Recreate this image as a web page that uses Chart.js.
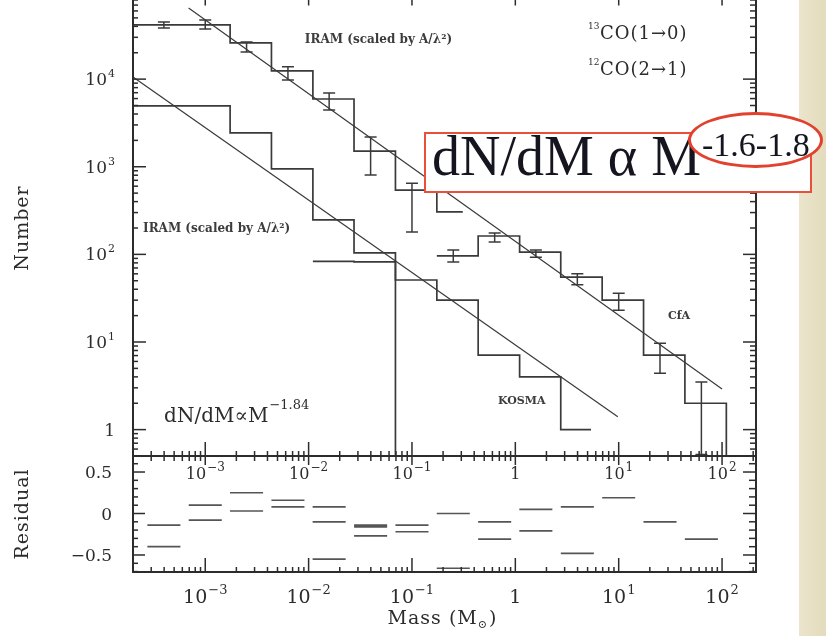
<!DOCTYPE html>
<html lang="en">
<head>
    <meta charset="UTF-8">
    <meta name="viewport" content="width=device-width, initial-scale=1.0">
    <title>Clump mass spectrum</title>
    <style>
        body {
            margin: 0;
            width: 826px;
            height: 636px;
            position: relative;
            overflow: hidden;
            background-color: #ffffff;
        }

        .panel {
            position: absolute;
            left: 0;
            width: 826px;
        }

        .panel canvas {
            display: block;
            filter: blur(0.5px);
        }

        #mainPanel { top: -20px; height: 500px; }
        #residualPanel { top: 440px; height: 196px; }

        #stripe {
            position: absolute;
            left: 799px;
            top: 0;
            width: 27px;
            height: 636px;
            background: linear-gradient(90deg, #ebe5cc, #e3dbbd);
        }

        #callout {
            position: absolute;
            left: 424px;
            top: 132px;
            width: 384px;
            height: 57px;
            border: 2px solid #e8503a;
            background: #ffffff;
        }

        #callout span {
            position: absolute;
            left: 6px;
            top: -6px;
            font: 56px/1 "Liberation Serif", serif;
            color: #15151f;
            white-space: nowrap;
        }

        #ring {
            position: absolute;
            left: 688px;
            top: 112px;
            width: 129px;
            height: 50px;
            border: 3px solid #e2412e;
            border-radius: 50%;
            background: #ffffff;
        }

        #slope {
            position: absolute;
            left: 702px;
            top: 128px;
            font: 34px/1 "Liberation Serif", serif;
            color: #15151f;
            white-space: nowrap;
        }
    </style>
    <script src="https://cdn.jsdelivr.net/npm/chart.js"></script>
</head>
<body>
    <div id="stripe"></div>
    <div class="panel" id="mainPanel"><canvas id="massChart"></canvas></div>
    <div class="panel" id="residualPanel"><canvas id="residualChart"></canvas></div>
    <div id="callout"><span>dN/dM α M</span></div>
    <div id="ring"></div>
    <div id="slope">-1.6-1.8</div>

    <script>
        // Histograms: bin edges in solar masses, clump counts per bin
        const iramHighEdges = [2.0e-4, 1.74e-3, 4.37e-3, 1.10e-2, 2.75e-2, 6.92e-2, 0.174, 0.31];
        const iramHighCounts = [41500, 25900, 12400, 5930, 1510, 540, 305];

        const iramLowEdges = [2.0e-4, 1.74e-3, 4.37e-3, 1.10e-2, 2.75e-2, 6.92e-2];
        const iramLowCounts = [4940, 2430, 944, 247, 104];

        const kosmaEdges = [1.10e-2, 2.75e-2, 6.92e-2, 0.174, 0.437, 1.10, 2.75, 5.4];
        const kosmaCounts = [83, 82, 51, 30, 7.1, 4, 1];

        const cfaEdges = [0.174, 0.437, 1.10, 2.75, 6.92, 17.4, 43.7, 110];
        const cfaCounts = [96, 162, 106, 55, 30, 7.1, 2];

        // Poisson error bars (bin centre, lower, upper)
        const iramErrMass = [3.98e-4, 1.0e-3, 2.51e-3, 6.31e-3, 1.58e-2, 3.98e-2, 0.100];
        const iramErrLow = [38300, 37300, 20400, 9770, 4440, 805, 180];
        const iramErrHigh = [44900, 47300, 26500, 13800, 6950, 2190, 650];

        const cfaErrMass = [0.251, 0.631, 1.58, 3.98, 10.0, 25.1, 63.1];
        const cfaErrLow = [82, 138, 93, 45, 23, 4.4, 0.52];
        const cfaErrHigh = [112, 175, 112, 60, 36, 9.7, 3.5];

        // Power-law fits, dN/dM ~ M^-1.84
        const fitHighMass = [6.9e-4, 100];
        const fitHighCount = [65000, 2.9];
        const fitLowMass = [2.0e-4, 9.8];
        const fitLowCount = [10600, 1.4];

        // Residuals of the fits per bin centre
        const resMass = [3.98e-4, 1.0e-3, 2.51e-3, 6.31e-3, 1.58e-2, 3.98e-2, 0.100, 0.251, 0.631, 1.58, 3.98, 10.0, 25.1, 63.1];
        const resUpper = [-0.14, 0.10, 0.25, 0.16, 0.08, -0.14, -0.14, 0.00, -0.10, 0.05, 0.08, 0.19, -0.10, -0.31];
        const resLower = [-0.40, -0.08, 0.03, 0.08, -0.10, -0.16, -0.22, -0.66, -0.31, -0.21, -0.48, null, null, null];
        const resThird = [null, null, null, null, -0.55, -0.27, null, null, null, null, null, null, null, null];

        // Axis ranges
        const massMin = 2.0e-4, massMax = 213;
        const countMin = 0.5, countMax = 1e5;
        const resMin = -0.705, resMax = 0.693;
        const yDecades = [1, 10, 100, 1000, 10000];
        const xDecades = [1e-3, 1e-2, 1e-1, 1, 10, 100];
        const resLabels = [0.5, 0, -0.5];

        const FONT = '"DejaVu Serif", serif';
        const INK = '#2c2c2c';
        const LINE = '#3a3a3a';
        const FLOOR = 0.1;        // empty bin, below the log axis
        const SEG_SPAN = 1.445;   // residual marks cover +-0.16 dex

        function stepPoints(edges, counts, drop) {
            const pts = counts.map((c, i) => ({ x: edges[i], y: c }));
            pts.push({ x: edges[counts.length], y: counts[counts.length - 1] });
            if (drop) pts.push({ x: edges[counts.length], y: FLOOR });
            return pts;
        }

        function linePoints(xs, ys) {
            return xs.map((x, i) => ({ x: x, y: ys[i] }));
        }

        function residualPoints(values) {
            const pts = [];
            values.forEach((v, i) => {
                if (v === null) return;
                pts.push({ x: resMass[i] / SEG_SPAN, y: v });
                pts.push({ x: resMass[i] * SEG_SPAN, y: v });
                pts.push({ x: resMass[i] * SEG_SPAN, y: null });
            });
            return pts;
        }

        function logTicks(min, max) {
            const out = [];
            for (let e = Math.floor(Math.log10(min)); e <= Math.ceil(Math.log10(max)); e++) {
                for (let m = 1; m < 10; m++) {
                    const v = m * Math.pow(10, e);
                    if (v >= min * 0.999 && v <= max * 1.001) out.push({ v: v, major: m === 1 });
                }
            }
            return out;
        }

        function decadeParts(v) {
            const e = Math.round(Math.log10(v));
            if (e === 0) return ['1', ''];
            return ['10', (e < 0 ? '\u2212' : '') + Math.abs(e)];
        }

        function powerText(ctx, base, sup, x, y, size, supSize, rise, align) {
            ctx.font = size + 'px ' + FONT;
            const bw = ctx.measureText(base).width;
            ctx.font = supSize + 'px ' + FONT;
            const sw = sup ? ctx.measureText(sup).width + 1 : 0;
            let x0 = x;
            if (align === 'right') x0 = x - bw - sw;
            if (align === 'center') x0 = x - (bw + sw) / 2;
            ctx.textAlign = 'left';
            ctx.textBaseline = 'alphabetic';
            ctx.font = size + 'px ' + FONT;
            ctx.fillText(base, x0, y);
            if (sup) {
                ctx.font = supSize + 'px ' + FONT;
                ctx.fillText(sup, x0 + bw + 1, y - rise);
            }
        }

        function seg(ctx, x1, y1, x2, y2) {
            ctx.beginPath();
            ctx.moveTo(x1, y1);
            ctx.lineTo(x2, y2);
            ctx.stroke();
        }

        function errorBars(ctx, xs, ys, mass, lo, hi) {
            mass.forEach((m, i) => {
                const px = xs.getPixelForValue(m);
                const top = ys.getPixelForValue(hi[i]);
                const bot = ys.getPixelForValue(lo[i]);
                seg(ctx, px, top, px, bot);
                seg(ctx, px - 6, top, px + 6, top);
                seg(ctx, px - 6, bot, px + 6, bot);
            });
        }

        // frame, ticks, labels and notes of the upper panel
        const massDecor = {
            id: 'massDecor',
            afterDatasetsDraw(chart) {
                const ctx = chart.ctx;
                const a = chart.chartArea;
                const xs = chart.scales.x;
                const ys = chart.scales.y;
                ctx.save();

                ctx.save();
                ctx.beginPath();
                ctx.rect(a.left, a.top, a.right - a.left, a.bottom - a.top);
                ctx.clip();
                ctx.strokeStyle = LINE;
                ctx.lineWidth = 1.5;
                errorBars(ctx, xs, ys, iramErrMass, iramErrLow, iramErrHigh);
                errorBars(ctx, xs, ys, cfaErrMass, cfaErrLow, cfaErrHigh);
                ctx.restore();

                ctx.strokeStyle = INK;
                ctx.lineWidth = 2;
                ctx.strokeRect(a.left, a.top, a.right - a.left, a.bottom - a.top);

                ctx.lineWidth = 1.5;
                logTicks(xs.min, xs.max).forEach(t => {
                    const px = xs.getPixelForValue(t.v);
                    seg(ctx, px, a.bottom, px, a.bottom - (t.major ? 14 : 5));
                    seg(ctx, px, a.top, px, a.top + (t.major ? 14 : 5));
                });
                logTicks(ys.min, ys.max).forEach(t => {
                    const py = ys.getPixelForValue(t.v);
                    seg(ctx, a.left, py, a.left + (t.major ? 13 : 5), py);
                    seg(ctx, a.right, py, a.right - (t.major ? 13 : 6), py);
                });

                ctx.fillStyle = INK;
                yDecades.forEach(v => {
                    const p = decadeParts(v);
                    powerText(ctx, p[0], p[1], a.left - 18, ys.getPixelForValue(v) + 6, 17, 11, 8, 'right');
                });

                // axis title
                ctx.save();
                ctx.translate(23, 248);
                ctx.rotate(-Math.PI / 2);
                ctx.font = '19px ' + FONT;
                ctx.letterSpacing = '1px';
                ctx.textAlign = 'center';
                ctx.textBaseline = 'middle';
                ctx.fillText('Number', 0, 0);
                ctx.restore();

                // notes inside the panel
                ctx.fillStyle = '#3c3c3c';
                ctx.textAlign = 'left';
                ctx.textBaseline = 'middle';
                ctx.font = 'bold 12px ' + FONT;
                ctx.fillText('IRAM (scaled by A/\u03bb\u00b2)', xs.getPixelForValue(9.2e-3), ys.getPixelForValue(27900));
                ctx.fillText('IRAM (scaled by A/\u03bb\u00b2)', xs.getPixelForValue(2.5e-4), ys.getPixelForValue(195));
                ctx.font = 'bold 11px ' + FONT;
                ctx.fillText('CfA', xs.getPixelForValue(30), ys.getPixelForValue(19.8));
                ctx.fillText('KOSMA', xs.getPixelForValue(0.68), ys.getPixelForValue(2.12));

                ctx.fillStyle = INK;
                [['13', 'CO(1\u21920)', 34500], ['12', 'CO(2\u21921)', 13400]].forEach(line => {
                    const px = xs.getPixelForValue(5.05);
                    const py = ys.getPixelForValue(line[2]);
                    ctx.textBaseline = 'alphabetic';
                    ctx.font = '9px ' + FONT;
                    ctx.fillText(line[0], px, py - 3);
                    ctx.font = '18px ' + FONT;
                    ctx.letterSpacing = '1px';
                    ctx.fillText(line[1], px + 12, py + 7);
                    ctx.letterSpacing = '0px';
                });

                powerText(ctx, 'dN/dM\u221dM', '\u22121.84', xs.getPixelForValue(4.0e-4), ys.getPixelForValue(1.22), 20, 13, 13, 'left');

                ctx.restore();
            }
        };

        // frame, ticks and labels of the residual panel
        const residualDecor = {
            id: 'residualDecor',
            afterDatasetsDraw(chart) {
                const ctx = chart.ctx;
                const a = chart.chartArea;
                const xs = chart.scales.x;
                const ys = chart.scales.y;
                ctx.save();

                ctx.strokeStyle = INK;
                ctx.lineWidth = 2;
                ctx.strokeRect(a.left, a.top, a.right - a.left, a.bottom - a.top);

                ctx.lineWidth = 1.5;
                logTicks(xs.min, xs.max).forEach(t => {
                    const px = xs.getPixelForValue(t.v);
                    seg(ctx, px, a.top, px, a.top + (t.major ? 9 : 5));
                    seg(ctx, px, a.bottom, px, a.bottom - (t.major ? 14 : 5));
                });
                for (let k = -7; k <= 7; k++) {
                    const v = k / 10;
                    if (v < ys.min || v > ys.max) continue;
                    const py = ys.getPixelForValue(v);
                    const major = k % 5 === 0;
                    seg(ctx, a.left, py, a.left + (major ? 12 : 5), py);
                    seg(ctx, a.right, py, a.right - (major ? 13 : 7), py);
                }

                ctx.fillStyle = INK;
                xDecades.forEach(v => {
                    const p = decadeParts(v);
                    const px = xs.getPixelForValue(v);
                    powerText(ctx, p[0], p[1], px, a.top + 23, 16, 12, 8, 'center');
                    powerText(ctx, p[0], p[1], px, a.bottom + 31, 19, 13, 9, 'center');
                });
                resLabels.forEach(v => {
                    const txt = v < 0 ? '\u2212' + Math.abs(v) : String(v);
                    powerText(ctx, txt, '', a.left - 21, ys.getPixelForValue(v) + 6, 17, 11, 0, 'right');
                });

                ctx.save();
                ctx.translate(23, (a.top + a.bottom) / 2);
                ctx.rotate(-Math.PI / 2);
                ctx.font = '19px ' + FONT;
                ctx.letterSpacing = '1px';
                ctx.textAlign = 'center';
                ctx.textBaseline = 'middle';
                ctx.fillText('Residual', 0, 0);
                ctx.restore();

                // "Mass (M_sun)"
                ctx.textAlign = 'left';
                ctx.textBaseline = 'alphabetic';
                ctx.letterSpacing = '1px';
                ctx.font = '19px ' + FONT;
                const head = 'Mass (M';
                const hw = ctx.measureText(head).width;
                ctx.font = '11px ' + FONT;
                const sw = ctx.measureText('\u2299').width;
                ctx.font = '19px ' + FONT;
                const tw = ctx.measureText(')').width;
                const x0 = 442 - (hw + sw + tw) / 2;
                const base = a.bottom + 52;
                ctx.fillText(head, x0, base);
                ctx.font = '11px ' + FONT;
                ctx.fillText('\u2299', x0 + hw, base + 4);
                ctx.font = '19px ' + FONT;
                ctx.fillText(')', x0 + hw + sw + 1, base);
                ctx.letterSpacing = '0px';

                ctx.restore();
            }
        };

        const histStyle = {
            stepped: 'before',
            borderColor: LINE,
            borderWidth: 1.7,
            pointRadius: 0,
            fill: false
        };
        const fitStyle = {
            borderColor: LINE,
            borderWidth: 1.2,
            pointRadius: 0,
            fill: false
        };
        const resStyle = {
            borderColor: '#555555',
            borderWidth: 1.7,
            pointRadius: 0,
            fill: false,
            spanGaps: false
        };

        new Chart(document.getElementById('massChart'), {
            type: 'line',
            data: {
                datasets: [
                    Object.assign({ label: 'IRAM 13CO', data: stepPoints(iramHighEdges, iramHighCounts, false) }, histStyle),
                    Object.assign({ label: 'IRAM 12CO', data: stepPoints(iramLowEdges, iramLowCounts, true) }, histStyle),
                    Object.assign({ label: 'KOSMA', data: stepPoints(kosmaEdges, kosmaCounts, false) }, histStyle),
                    Object.assign({ label: 'CfA', data: stepPoints(cfaEdges, cfaCounts, true) }, histStyle),
                    Object.assign({ label: 'fit upper', data: linePoints(fitHighMass, fitHighCount) }, fitStyle),
                    Object.assign({ label: 'fit lower', data: linePoints(fitLowMass, fitLowCount) }, fitStyle)
                ]
            },
            options: {
                responsive: true,
                maintainAspectRatio: false,
                animation: false,
                events: [],
                layout: { padding: { left: 133, right: 70, top: 11.5, bottom: 24 } },
                plugins: { legend: { display: false }, tooltip: { enabled: false } },
                scales: {
                    x: { type: 'logarithmic', min: massMin, max: massMax, display: false },
                    y: { type: 'logarithmic', min: countMin, max: countMax, display: false }
                }
            },
            plugins: [massDecor]
        });

        new Chart(document.getElementById('residualChart'), {
            type: 'line',
            data: {
                datasets: [
                    Object.assign({ label: 'upper', data: residualPoints(resUpper) }, resStyle),
                    Object.assign({ label: 'lower', data: residualPoints(resLower) }, resStyle),
                    Object.assign({ label: 'third', data: residualPoints(resThird) }, resStyle)
                ]
            },
            options: {
                responsive: true,
                maintainAspectRatio: false,
                animation: false,
                events: [],
                layout: { padding: { left: 133, right: 70, top: 16, bottom: 64 } },
                plugins: { legend: { display: false }, tooltip: { enabled: false } },
                scales: {
                    x: { type: 'logarithmic', min: massMin, max: massMax, display: false },
                    y: { type: 'linear', min: resMin, max: resMax, display: false }
                }
            },
            plugins: [residualDecor]
        });
    </script>
</body>
</html>
